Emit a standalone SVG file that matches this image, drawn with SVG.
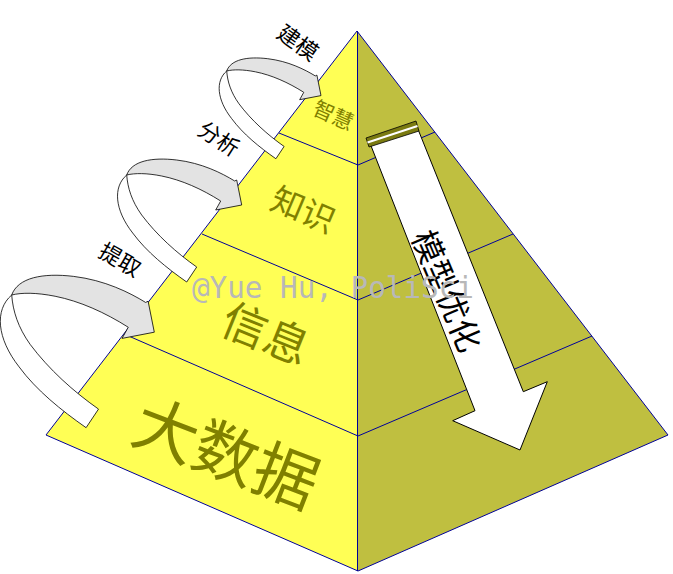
<svg xmlns="http://www.w3.org/2000/svg" xmlns:xlink="http://www.w3.org/1999/xlink" width="673" height="574" viewBox="0 0 673 574">
<style>
.edge{stroke:#000099;stroke-width:1;fill:none}
.lface{fill:#FFFF55}
.rface{fill:#BFBF40}
.lvl{font-family:"Noto Sans CJK SC","Noto Sans CJK JP",sans-serif;fill:#808000;text-anchor:middle;dominant-baseline:central}
.lbl{font-family:"Noto Sans CJK SC","Noto Sans CJK JP",sans-serif;fill:#000;text-anchor:middle;dominant-baseline:central;font-size:22px}
.band{fill:#E3E3E3;stroke:#000;stroke-width:0.8;vector-effect:non-scaling-stroke}
.face{fill:#FFFFFF;stroke:#000;stroke-width:0.8;vector-effect:non-scaling-stroke}
.mark{font-family:"DejaVu Sans Mono",monospace;fill:#B8B8B8;font-size:31px}
</style>
<defs>
<g id="curl">
<path class="band" d="M0,0 C5,-14 25,-18 50,-15 C75,-12 95,-2 108,6 L110,5 L115,30 L89,35 L94,26 C75,14 55,5 35,1 C20,-2 8,-2 0,0 Z"/>
<path class="face" d="M0,0 C-14,12 -12,35 6,58 C20,77 40,93 60,107 L70,92 C50,78 30,60 15,40 C5,26 1,13 0,0 Z"/>
</g>
</defs>
<g id="pyramid">
<polygon class="lface" points="357,31 46,435 358,571"/>
<polygon class="rface" points="357,31 668,435 358,571"/>
<polygon class="edge" points="357,31 46,435 358,571 668,435"/>
<line class="edge" x1="357.5" y1="31" x2="357.5" y2="571"/>
<polyline class="edge" points="279,133 358,165 435,132"/>
<polyline class="edge" points="202,234 358,300 513,234"/>
<polyline class="edge" points="124,334 358,436 592,336"/>
</g>
<g id="level-wisdom"><text class="lvl" font-size="21" transform="translate(334,114) rotate(24)">智慧</text></g>
<g id="level-knowledge"><text class="lvl" font-size="33" transform="translate(304,208) rotate(23)">知识</text></g>
<g id="level-information"><text class="lvl" font-size="45" transform="translate(267,331) rotate(22)">信息</text></g>
<g id="level-bigdata"><text class="lvl" font-size="64" transform="translate(228,449) rotate(21)">大数据</text></g>
<g id="connectors">
<use xlink:href="#curl" transform="translate(226.7,71) scale(0.82)"/>
<use xlink:href="#curl" transform="translate(126.7,175)"/>
<use xlink:href="#curl" transform="translate(11.7,295) scale(1.24)"/>
<g id="model-arrow">
<path d="M370.7,145 L475,410.7 L452.7,420.7 L520,450 L547.3,381.7 L523.3,391.7 L418.3,130 Z" fill="#FFFFFF" stroke="#000" stroke-width="1"/>
<polygon points="366,138 416,121 419,131 369,147" fill="#7a7a10" stroke="#000" stroke-width="0.8"/>
<line x1="367.5" y1="142.5" x2="417.5" y2="126" stroke="#FFFFFF" stroke-width="2"/>
</g>
</g>
<g id="labels">
<text class="lbl" transform="translate(299,41) rotate(35)">建模</text>
<text class="lbl" transform="translate(220,137) rotate(33)">分析</text>
<text class="lbl" transform="translate(121,258) rotate(30)">提取</text>
<text class="lbl" style="font-size:32px" transform="translate(449,290) rotate(67)">模型优化</text>
</g>
<text class="mark" x="192" y="298" textLength="282" lengthAdjust="spacingAndGlyphs">@Yue Hu, PoliSci</text>
</svg>
